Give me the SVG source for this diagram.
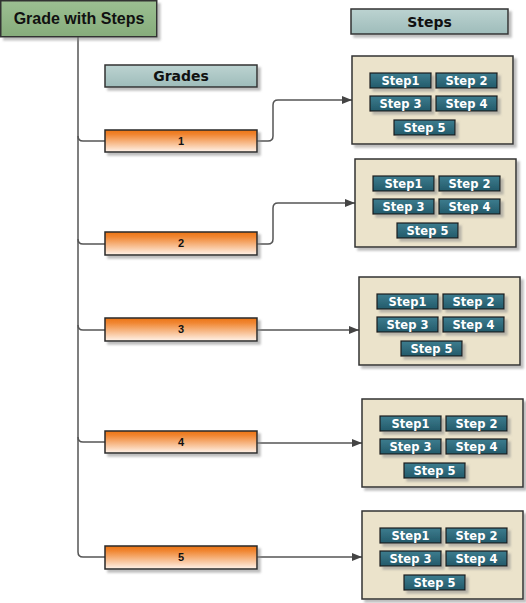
<svg xmlns="http://www.w3.org/2000/svg" width="526" height="603" viewBox="0 0 526 603">
<defs>
<linearGradient id="gTitle" x1="0" y1="0" x2="0" y2="1"><stop offset="0" stop-color="#9cbf92"/><stop offset="1" stop-color="#86ac7b"/></linearGradient>
<linearGradient id="gHead" x1="0" y1="0" x2="0" y2="1"><stop offset="0" stop-color="#bcd3d1"/><stop offset="1" stop-color="#9ebcba"/></linearGradient>
<linearGradient id="gGrade" x1="0" y1="0" x2="0" y2="1"><stop offset="0" stop-color="#ec7416"/><stop offset="0.2" stop-color="#f08530"/><stop offset="1" stop-color="#fff3ea"/></linearGradient>
<linearGradient id="gBtn" x1="0" y1="0" x2="0" y2="1"><stop offset="0" stop-color="#3d7d8f"/><stop offset="1" stop-color="#235a6a"/></linearGradient>
<filter id="sh" x="-10%" y="-20%" width="130%" height="160%"><feDropShadow dx="3" dy="3" stdDeviation="1" flood-color="#888" flood-opacity="0.55"/></filter>
<marker id="arr" viewBox="0 0 10 8" refX="10" refY="4" markerWidth="10" markerHeight="8" markerUnits="userSpaceOnUse" orient="auto"><path d="M0,0 L10,4 L0,8 Z" fill="#444"/></marker>
</defs>
<style>
.title{fill:url(#gTitle);stroke:#333;stroke-width:1.5}
.head{fill:url(#gHead);stroke:#333;stroke-width:1.5}
.grade{fill:url(#gGrade);stroke:#2a2a2a;stroke-width:1.5}
.box{fill:#ebe3cb;stroke:#333;stroke-width:1.5}
.btn{fill:url(#gBtn);stroke:#1b1b1b;stroke-width:1.2}
.tt{font-family:"Liberation Sans",Arial,sans-serif;font-weight:bold;font-size:16px;fill:#111;text-anchor:middle}
.ht{font-family:"DejaVu Sans",Verdana,sans-serif;font-weight:bold;font-size:14px;fill:#111;text-anchor:middle}
.gt{font-family:"Liberation Sans",Arial,sans-serif;font-weight:bold;font-size:11px;fill:#111;text-anchor:middle}
.bt{font-family:"DejaVu Sans",Verdana,sans-serif;font-weight:bold;font-size:11.5px;fill:#fff;text-anchor:middle}
.con{fill:none;stroke:#555;stroke-width:1.5}
</style>

<g id="connectors">
<path class="con" d="M78,37 V552 Q78,557 83,557 H105"/>
<path class="con" d="M78,136 Q78,141 83,141 H105"/>
<path class="con" d="M78,239 Q78,244 83,244 H105"/>
<path class="con" d="M78,325 Q78,330 83,330 H105"/>
<path class="con" d="M78,437 Q78,442 83,442 H105"/>
<path class="con" d="M257,141 H268 Q273,141 273,136 V105 Q273,100 278,100 H352" marker-end="url(#arr)"/>
<path class="con" d="M257,244 H268 Q273,244 273,239 V208 Q273,203 278,203 H355" marker-end="url(#arr)"/>
<path class="con" d="M257,330 H359" marker-end="url(#arr)"/>
<path class="con" d="M257,443 H362" marker-end="url(#arr)"/>
<path class="con" d="M257,557 H362" marker-end="url(#arr)"/>
</g>

<g id="title"><rect class="title" x="0.75" y="0.75" width="156" height="36" filter="url(#sh)"/><text class="tt" x="79" y="24">Grade with Steps</text></g>
<g id="grades-header"><rect class="head" x="105" y="65" width="152" height="22" filter="url(#sh)"/><text class="ht" x="181" y="81">Grades</text></g>
<g id="steps-header"><rect class="head" x="351" y="9" width="157" height="25" filter="url(#sh)"/><text class="ht" x="429.5" y="26.5">Steps</text></g>

<g id="grade1"><rect class="grade" x="105" y="130" width="152" height="22" filter="url(#sh)"/><text class="gt" x="181" y="145">1</text></g>
<g id="grade2"><rect class="grade" x="105" y="232" width="152" height="23" filter="url(#sh)"/><text class="gt" x="181" y="247">2</text></g>
<g id="grade3"><rect class="grade" x="105" y="318" width="152" height="23" filter="url(#sh)"/><text class="gt" x="181" y="333">3</text></g>
<g id="grade4"><rect class="grade" x="105" y="431" width="152" height="22" filter="url(#sh)"/><text class="gt" x="181" y="446">4</text></g>
<g id="grade5"><rect class="grade" x="105" y="546" width="152" height="23" filter="url(#sh)"/><text class="gt" x="181" y="561">5</text></g>

<g id="steps1" transform="translate(352,56)">
<rect class="box" x="0" y="0" width="161" height="88" filter="url(#sh)"/>
<rect class="btn" x="18" y="17" width="61" height="15" filter="url(#sh)"/><text class="bt" x="48.5" y="29">Step1</text>
<rect class="btn" x="84" y="17" width="61" height="15" filter="url(#sh)"/><text class="bt" x="114.5" y="29">Step 2</text>
<rect class="btn" x="18" y="40" width="61" height="15" filter="url(#sh)"/><text class="bt" x="48.5" y="52">Step 3</text>
<rect class="btn" x="84" y="40" width="61" height="15" filter="url(#sh)"/><text class="bt" x="114.5" y="52">Step 4</text>
<rect class="btn" x="42" y="64" width="61" height="15" filter="url(#sh)"/><text class="bt" x="72.5" y="76">Step 5</text>
</g>
<g id="steps2" transform="translate(355,159)">
<rect class="box" x="0" y="0" width="161" height="88" filter="url(#sh)"/>
<rect class="btn" x="18" y="17" width="61" height="15" filter="url(#sh)"/><text class="bt" x="48.5" y="29">Step1</text>
<rect class="btn" x="84" y="17" width="61" height="15" filter="url(#sh)"/><text class="bt" x="114.5" y="29">Step 2</text>
<rect class="btn" x="18" y="40" width="61" height="15" filter="url(#sh)"/><text class="bt" x="48.5" y="52">Step 3</text>
<rect class="btn" x="84" y="40" width="61" height="15" filter="url(#sh)"/><text class="bt" x="114.5" y="52">Step 4</text>
<rect class="btn" x="42" y="64" width="61" height="15" filter="url(#sh)"/><text class="bt" x="72.5" y="76">Step 5</text>
</g>
<g id="steps3" transform="translate(359,277)">
<rect class="box" x="0" y="0" width="161" height="88" filter="url(#sh)"/>
<rect class="btn" x="18" y="17" width="61" height="15" filter="url(#sh)"/><text class="bt" x="48.5" y="29">Step1</text>
<rect class="btn" x="84" y="17" width="61" height="15" filter="url(#sh)"/><text class="bt" x="114.5" y="29">Step 2</text>
<rect class="btn" x="18" y="40" width="61" height="15" filter="url(#sh)"/><text class="bt" x="48.5" y="52">Step 3</text>
<rect class="btn" x="84" y="40" width="61" height="15" filter="url(#sh)"/><text class="bt" x="114.5" y="52">Step 4</text>
<rect class="btn" x="42" y="64" width="61" height="15" filter="url(#sh)"/><text class="bt" x="72.5" y="76">Step 5</text>
</g>
<g id="steps4" transform="translate(362,399)">
<rect class="box" x="0" y="0" width="161" height="88" filter="url(#sh)"/>
<rect class="btn" x="18" y="17" width="61" height="15" filter="url(#sh)"/><text class="bt" x="48.5" y="29">Step1</text>
<rect class="btn" x="84" y="17" width="61" height="15" filter="url(#sh)"/><text class="bt" x="114.5" y="29">Step 2</text>
<rect class="btn" x="18" y="40" width="61" height="15" filter="url(#sh)"/><text class="bt" x="48.5" y="52">Step 3</text>
<rect class="btn" x="84" y="40" width="61" height="15" filter="url(#sh)"/><text class="bt" x="114.5" y="52">Step 4</text>
<rect class="btn" x="42" y="64" width="61" height="15" filter="url(#sh)"/><text class="bt" x="72.5" y="76">Step 5</text>
</g>
<g id="steps5" transform="translate(362,511)">
<rect class="box" x="0" y="0" width="161" height="88" filter="url(#sh)"/>
<rect class="btn" x="18" y="17" width="61" height="15" filter="url(#sh)"/><text class="bt" x="48.5" y="29">Step1</text>
<rect class="btn" x="84" y="17" width="61" height="15" filter="url(#sh)"/><text class="bt" x="114.5" y="29">Step 2</text>
<rect class="btn" x="18" y="40" width="61" height="15" filter="url(#sh)"/><text class="bt" x="48.5" y="52">Step 3</text>
<rect class="btn" x="84" y="40" width="61" height="15" filter="url(#sh)"/><text class="bt" x="114.5" y="52">Step 4</text>
<rect class="btn" x="42" y="64" width="61" height="15" filter="url(#sh)"/><text class="bt" x="72.5" y="76">Step 5</text>
</g>
</svg>
